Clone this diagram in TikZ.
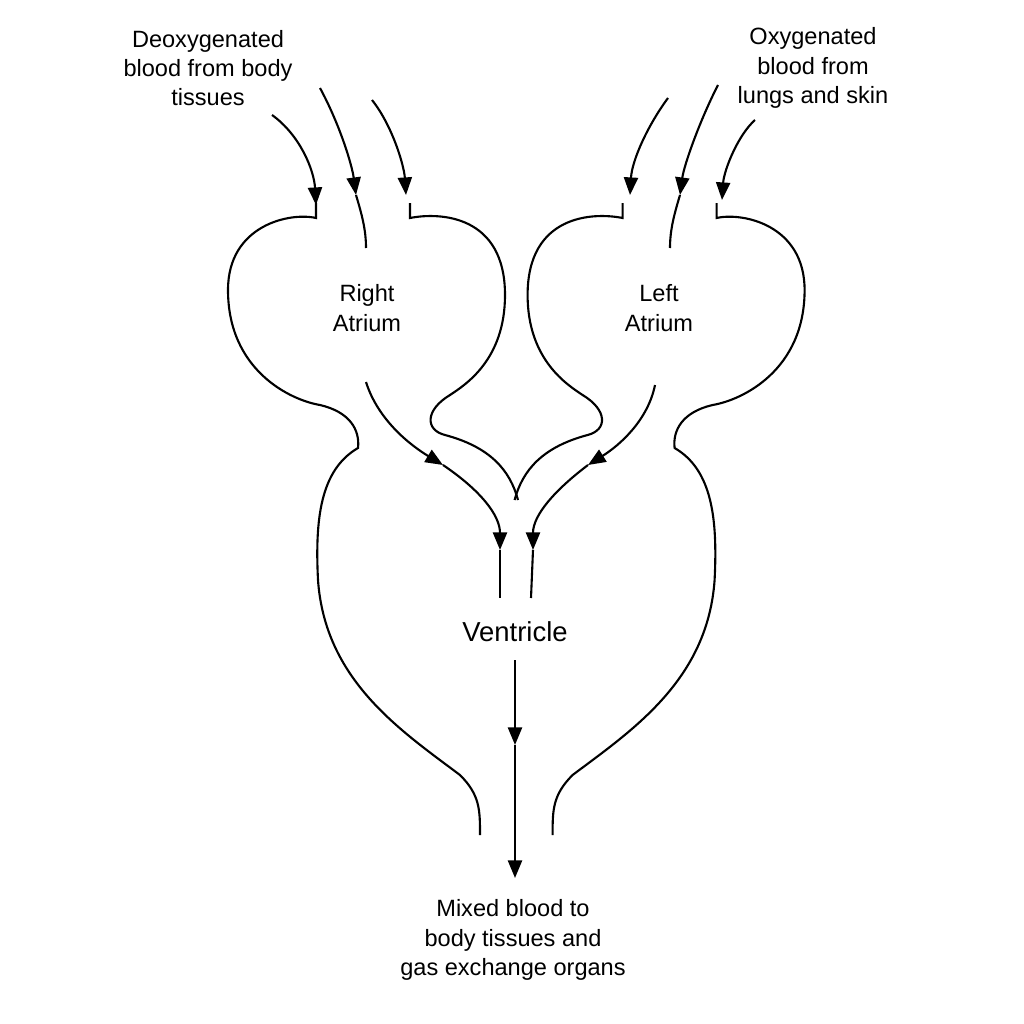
\documentclass[tikz,border=0pt]{standalone}
\usepackage{fontspec}
\setmainfont{Liberation Sans}
\usetikzlibrary{arrows.meta}
\begin{document}
\begin{tikzpicture}[x=0.01cm,y=-0.01cm,line width=0.6pt,
 arr/.style={-{Triangle[length=5pt,width=4pt]}},
 lbl/.style={align=center,font=\fontsize{6.7}{8.3}\selectfont}]
\useasboundingbox (0,0) rectangle (1024,1024);
% outlines
\def\wallA{(316,203)--(316,218) .. controls (290,212) and (228,225) .. (228,290) .. controls (228,370) and (290,400) .. (320,405) .. controls (350,412) and (360,430) .. (358,448) .. controls (320,470) and (315,520) .. (318,580) .. controls (325,680) and (400,730) .. (460,775) .. controls (480,795) and (480,810) .. (480,835)}
\def\wallB{(410,203)--(410,218) .. controls (440,212) and (505,215) .. (505,295) .. controls (505,360) and (465,385) .. (450,395) .. controls (425,410) and (425,430) .. (445,435) .. controls (490,447) and (510,470) .. (518,500)}
\draw \wallA; \draw \wallB;
\begin{scope}[xshift=10.32cm,xscale=-1]
\draw \wallA; \draw \wallB;
\end{scope}
% inflow arrows right atrium
\coordinate (a1) at (272,115); \coordinate (t1) at (316,205);
\coordinate (a2) at (320,88); \coordinate (t2) at (356,195); \coordinate (e2) at (366,248);
\coordinate (a3) at (372,100); \coordinate (t3) at (406,195);
\draw[arr] (a1) .. controls (300,135) and (314,170) .. (t1);
\draw[arr] (a2) .. controls (340,125) and (352,165) .. (t2);
\draw (t2) .. controls (362,215) and (366,230) .. (e2);
\draw[arr] (a3) .. controls (392,125) and (404,165) .. (t3);
% left atrium
\coordinate (b1) at (668,98); \coordinate (u1) at (630,195);
\coordinate (b2) at (718,85); \coordinate (u2) at (680,195); \coordinate (f2) at (670,248);
\coordinate (b3) at (755,120); \coordinate (u3) at (722,200);
\draw[arr] (b1) .. controls (648,125) and (632,160) .. (u1);
\draw[arr] (b2) .. controls (700,120) and (684,165) .. (u2);
\draw (u2) .. controls (674,215) and (670,230) .. (f2);
\draw[arr] (b3) .. controls (738,135) and (724,170) .. (u3);
% atrium to ventricle
\coordinate (c1) at (366,382); \coordinate (c2) at (443,465); \coordinate (c3) at (500,550); \coordinate (c4) at (500,598);
\draw[arr] (c1) .. controls (378,420) and (410,445) .. (c2);
\draw[arr] (c2) .. controls (480,490) and (500,515) .. (c3);
\draw (c3)--(c4);
\coordinate (d1) at (655,385); \coordinate (d2) at (588,465); \coordinate (d3) at (533,550); \coordinate (d4) at (531,598);
\draw[arr] (d1) .. controls (648,420) and (620,445) .. (d2);
\draw[arr] (d2) .. controls (555,490) and (533,515) .. (d3);
\draw (d3)--(d4);
% ventricle outflow
\coordinate (v1) at (515,660); \coordinate (v2) at (515,745); \coordinate (v3) at (515,878);
\draw[arr] (v1)--(v2); \draw[arr] (v2)--(v3);
% labels
\node[lbl] (deo) at (208,68) {Deoxygenated\\blood from body\\tissues};
\node[lbl] (oxy) at (813,68) {Oxygenated\\blood from\\lungs and skin};
\node[lbl] (ra) at (367,308) {Right\\Atrium};
\node[lbl] (la) at (659,308) {Left\\Atrium};
\node[font=\fontsize{7.8}{10}\selectfont] (ven) at (515,632) {Ventricle};
\node[lbl] (mix) at (513,940) {Mixed blood to\\body tissues and\\gas exchange organs};
\end{tikzpicture}
\end{document}
